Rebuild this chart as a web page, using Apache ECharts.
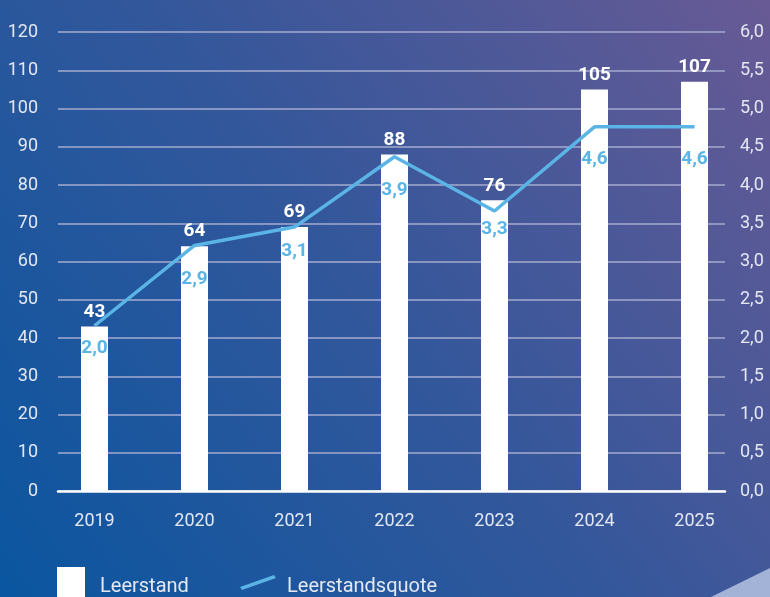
<!DOCTYPE html>
<html>
<head>
<meta charset="utf-8">
<script src="https://cdn.jsdelivr.net/npm/echarts@6/dist/echarts.min.js"></script>
<style>
html,body{margin:0;padding:0;}
#c{width:770px;height:597px;}
</style>
</head>
<body>
<div id="c"></div>
<script>
// ---- data ----
const categories = ['2019', '2020', '2021', '2022', '2023', '2024', '2025'];
const leerstand = [43, 64, 69, 88, 76, 105, 107];
// line as drawn in the picture (right axis)
const quoteLine = [2.16, 3.21, 3.45, 4.37, 3.66, 4.76, 4.76];
// printed labels of the line
const quoteLabels = ['2,0', '2,9', '3,1', '3,9', '3,3', '4,6', '4,6'];
const leftTicks = { min: 0, max: 120, interval: 10 };
const rightTicks = { min: 0, max: 6, interval: 0.5 };

// ---- layout (not data) ----
const quoteLabelGap = [13, 24, 15, 24, 9, 23, 23];

const txt = '#e4e8f3';
const lineColor = '#5ab4e6';
const font = 'Roboto';

const chart = echarts.init(document.getElementById('c'), null, { renderer: 'canvas' });
const option = {
  animation: false,
  backgroundColor: {
    type: 'linear', x: 0, y: 1, x2: 1, y2: 0,
    colorStops: [
      { offset: 0, color: '#0a56a0' },
      { offset: 0.5, color: '#34579b' },
      { offset: 1, color: '#685a95' }
    ]
  },
  textStyle: { fontFamily: font },
  graphic: [{
    type: 'polygon',
    shape: { points: [[711, 597], [770, 568], [770, 597]] },
    style: { fill: '#a3b3d8' },
    silent: true
  }],
  grid: [
    { left: 58, right: 45, top: 32, bottom: 106 },
    { left: 44.5, right: 25.5, top: 32, bottom: 106 }
  ],
  legend: [
    {
      left: 57, top: 567, itemWidth: 28, itemHeight: 30, padding: 0,
      data: [{ name: 'Leerstand', icon: 'rect', itemStyle: { color: '#ffffff' } }],
      formatter: '{t|{name}}',
      textStyle: {
        color: txt, fontSize: 20, fontFamily: font,
        rich: { t: { color: txt, fontSize: 20, fontFamily: font, padding: [10, 0, 0, 10] } }
      }
    },
    {
      left: 240, top: 575, itemWidth: 36, itemHeight: 15, padding: 0,
      data: [{ name: 'Leerstandsquote', icon: 'path://M0,12 L34,0 L36,3 L2,15 Z', itemStyle: { color: lineColor } }],
      formatter: '{t|{name}}',
      textStyle: {
        color: txt, fontSize: 20, fontFamily: font,
        rich: { t: { color: txt, fontSize: 20, fontFamily: font, padding: [8, 0, 0, 6] } }
      }
    }
  ],
  xAxis: [
    {
      gridIndex: 0, type: 'value', min: 0, max: 1,
      axisLine: { show: true, onZero: false, lineStyle: { color: '#ffffff', width: 2.5 } },
      axisTick: { show: false }, axisLabel: { show: false }, splitLine: { show: false }
    },
    {
      gridIndex: 1, type: 'category', data: categories, boundaryGap: true,
      axisLine: { show: false }, axisTick: { show: false },
      axisLabel: { color: txt, fontSize: 18, margin: 21, fontFamily: font }
    }
  ],
  yAxis: [
    {
      gridIndex: 0, type: 'value', position: 'left',
      min: leftTicks.min, max: leftTicks.max, interval: leftTicks.interval,
      axisLine: { show: false }, axisTick: { show: false },
      axisLabel: { color: txt, fontSize: 18, margin: 20, fontFamily: font },
      splitLine: { show: true, lineStyle: { color: '#a4abcf', width: 1.6 } }
    },
    {
      gridIndex: 0, type: 'value', position: 'right',
      min: rightTicks.min, max: rightTicks.max, interval: rightTicks.interval,
      axisLine: { show: false }, axisTick: { show: false },
      axisLabel: {
        color: txt, fontSize: 18, margin: 15, fontFamily: font,
        formatter: v => v.toFixed(1).replace('.', ',')
      },
      splitLine: { show: false }
    },
    {
      gridIndex: 1, type: 'value', min: leftTicks.min, max: leftTicks.max, show: false
    },
    {
      gridIndex: 1, type: 'value', min: rightTicks.min, max: rightTicks.max, show: false
    }
  ],
  series: [
    {
      name: 'Leerstand', type: 'bar', xAxisIndex: 1, yAxisIndex: 2,
      data: leerstand, barWidth: 27,
      itemStyle: { color: '#ffffff' },
      label: {
        show: true, position: 'top', distance: 5,
        color: '#ffffff', fontSize: 19, fontWeight: 'bold', fontFamily: font
      },
      z: 2
    },
    {
      name: 'Leerstandsquote', type: 'line', xAxisIndex: 1, yAxisIndex: 3,
      color: lineColor,
      data: quoteLine.map((v, i) => ({
        value: v,
        label: { distance: quoteLabelGap[i], formatter: quoteLabels[i] }
      })),
      symbol: 'circle', symbolSize: 0.1, showSymbol: true,
      itemStyle: { color: 'rgba(0,0,0,0)' },
      lineStyle: { color: lineColor, width: 3.5 },
      label: {
        show: true, position: 'bottom',
        color: lineColor, fontSize: 19, fontWeight: 'bold', fontFamily: font
      },
      z: 3
    }
  ]
};
chart.setOption(option);
</script>
</body>
</html>
